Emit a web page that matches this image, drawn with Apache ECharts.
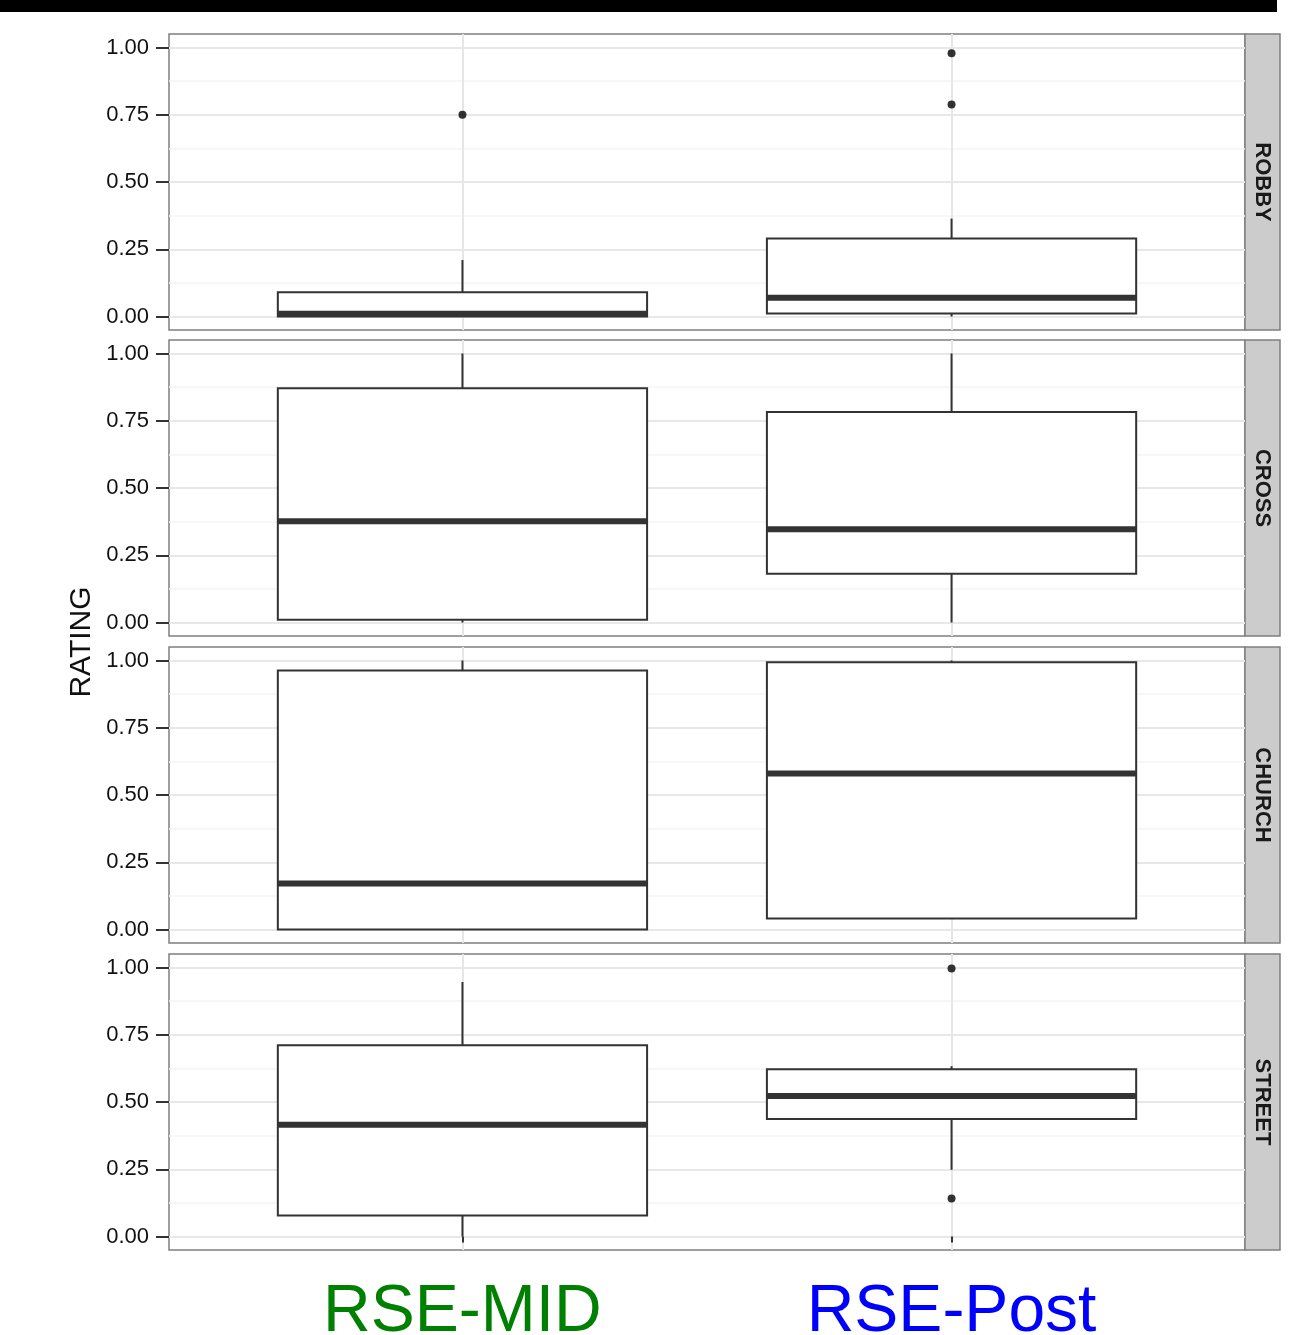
<!DOCTYPE html>
<html>
<head>
<meta charset="utf-8">
<script src="https://cdn.jsdelivr.net/npm/echarts@6/dist/echarts.min.js"></script>
<style>
  html, body { margin: 0; padding: 0; background: #fff; }
  #chart { width: 1289px; height: 1335px; }
</style>
</head>
<body>
<div id="chart"></div>
<script>
// facets, top to bottom
const facets = ['ROBBY', 'CROSS', 'CHURCH', 'STREET'];
const groups = ['RSE-MID', 'RSE-Post'];
const groupColors = ['#008000', '#0000ff'];
// [min, Q1, median, Q3, max] for each facet
const midStats = [
  [0.00, 0.00, 0.01, 0.09, 0.21],
  [0.00, 0.01, 0.376, 0.871, 1.00],
  [0.00, 0.00, 0.171, 0.963, 1.00],
  [0.00, 0.078, 0.415, 0.711, 0.946]
];
const postStats = [
  [0.00, 0.011, 0.07, 0.29, 0.364],
  [0.00, 0.181, 0.347, 0.782, 1.00],
  [0.041, 0.041, 0.58, 0.993, 1.00],
  [0.248, 0.437, 0.522, 0.622, 0.633]
];
const midOutliers = [[0.75], [], [], []];
const postOutliers = [[0.978, 0.788], [], [], [0.996, 0.141]];
const yTicks = [0, 0.25, 0.5, 0.75, 1];
const yMinorTicks = [0.125, 0.375, 0.625, 0.875];

const panelTops = [34, 340, 647, 954];
const panelH = 296;
const plotLeft = 169, plotW = 1076;
const stripW = 35;
const boxWidth = 0.755;

function renderBox(params, api) {
  const x = api.value(0);
  const lo = api.coord([x, api.value(1)]);
  const q1 = api.coord([x, api.value(2)]);
  const med = api.coord([x, api.value(3)]);
  const q3 = api.coord([x, api.value(4)]);
  const hi = api.coord([x, api.value(5)]);
  const half = api.size([boxWidth, 0])[0] / 2;
  const ink = '#333333';
  return {
    type: 'group',
    children: [
      { type: 'line', shape: { x1: lo[0], y1: lo[1], x2: q1[0], y2: q1[1] }, style: { stroke: ink, lineWidth: 2 } },
      { type: 'line', shape: { x1: q3[0], y1: q3[1], x2: hi[0], y2: hi[1] }, style: { stroke: ink, lineWidth: 2 } },
      { type: 'rect', shape: { x: q3[0] - half, y: q3[1], width: half * 2, height: q1[1] - q3[1] }, style: { fill: '#fff', stroke: ink, lineWidth: 2 } },
      { type: 'line', shape: { x1: med[0] - half, y1: med[1], x2: med[0] + half, y2: med[1] }, style: { stroke: ink, lineWidth: 6 } }
    ]
  };
}

const grids = [], xAxes = [], yAxes = [], series = [], graphics = [];

graphics.push({ type: 'rect', shape: { x: 0, y: 0, width: 1277, height: 12 }, style: { fill: '#000' } });
graphics.push({
  type: 'text', x: 82, y: 642, rotation: Math.PI / 2,
  style: { text: 'RATING', font: '30px "Liberation Sans", Arial, sans-serif', fill: '#111', align: 'center', verticalAlign: 'middle' }
});

facets.forEach(function (name, i) {
  const last = i === facets.length - 1;
  grids.push({
    left: plotLeft, top: panelTops[i], width: plotW, height: panelH,
    show: true, backgroundColor: '#fff', borderColor: '#7f7f7f', borderWidth: 1.5,
    outerBoundsMode: 'none', containLabel: false
  });
  xAxes.push({
    type: 'value', gridIndex: i, min: 0.4, max: 2.6, position: 'bottom',
    axisLine: { show: false },
    axisTick: { show: last, customValues: [1, 2], length: 6, lineStyle: { color: '#333', width: 2 } },
    axisLabel: {
      show: last, customValues: [1, 2], margin: 30,
      formatter: function (v) { return v === 1 ? '{a|' + groups[0] + '}' : '{b|' + groups[1] + '}'; },
      rich: {
        a: { color: groupColors[0], fontSize: 66, fontFamily: '"Liberation Sans", Arial, sans-serif' },
        b: { color: groupColors[1], fontSize: 66, fontFamily: '"Liberation Sans", Arial, sans-serif' }
      }
    },
    splitLine: { show: true, lineStyle: { color: '#e6e6e6', width: 2 } }
  });
  // minor grid lines
  yAxes.push({
    type: 'value', gridIndex: i, min: -0.05, max: 1.05, position: 'left',
    axisLine: { show: false },
    axisTick: { show: false, customValues: yMinorTicks },
    axisLabel: { show: false, customValues: yMinorTicks },
    splitLine: { show: true, lineStyle: { color: '#f5f5f5', width: 1.5 } }
  });
  // major ticks, labels and grid lines
  yAxes.push({
    type: 'value', gridIndex: i, min: -0.05, max: 1.05, position: 'left',
    axisLine: { show: false },
    axisTick: { show: true, customValues: yTicks, length: 13, lineStyle: { color: '#333', width: 2 } },
    axisLabel: {
      customValues: yTicks, margin: 20, fontSize: 22, color: '#111',
      fontFamily: '"Liberation Sans", Arial, sans-serif',
      formatter: function (v) { return v.toFixed(2); }
    },
    splitLine: { show: true, lineStyle: { color: '#e8e8e8', width: 2 } }
  });
  series.push({
    type: 'custom', name: name, xAxisIndex: i, yAxisIndex: 2 * i + 1,
    renderItem: renderBox,
    encode: { x: 0, y: [1, 2, 3, 4, 5] },
    data: [[1].concat(midStats[i]), [2].concat(postStats[i])],
    z: 3
  });
  series.push({
    type: 'scatter', xAxisIndex: i, yAxisIndex: 2 * i + 1,
    symbolSize: 8, itemStyle: { color: '#000' },
    data: midOutliers[i].map(function (v) { return [1, v]; })
      .concat(postOutliers[i].map(function (v) { return [2, v]; })),
    z: 4
  });
  graphics.push({
    type: 'rect',
    shape: { x: plotLeft + plotW, y: panelTops[i], width: stripW, height: panelH },
    style: { fill: '#cccccc', stroke: '#7f7f7f', lineWidth: 1.5 }
  });
  graphics.push({
    type: 'text', x: plotLeft + plotW + stripW / 2, y: panelTops[i] + panelH / 2,
    rotation: -Math.PI / 2,
    style: { text: name, font: 'bold 22px "Liberation Sans", Arial, sans-serif', fill: '#1a1a1a', align: 'center', verticalAlign: 'middle' }
  });
});

const chart = echarts.init(document.getElementById('chart'));
chart.setOption({
  animation: false,
  backgroundColor: '#fff',
  grid: grids,
  xAxis: xAxes,
  yAxis: yAxes,
  series: series,
  graphic: graphics
});
</script>
</body>
</html>
